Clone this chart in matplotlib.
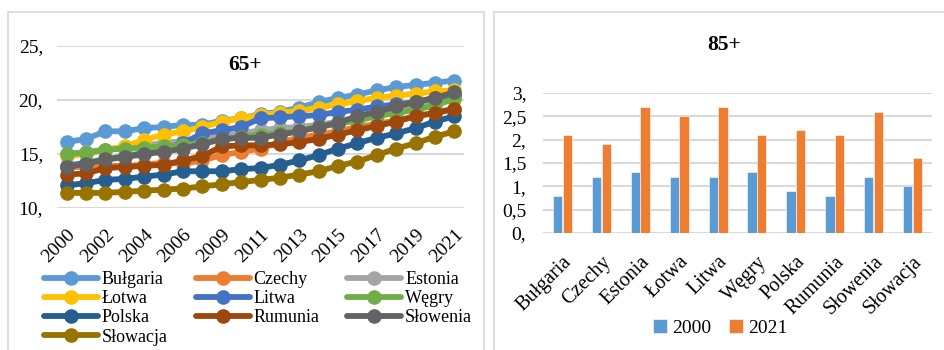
import matplotlib.pyplot as plt
from matplotlib.patches import Rectangle

plt.rcParams['font.family'] = ['Liberation Serif', 'DejaVu Serif']

# 65+ (lewy wykres)
years = [2000, 2001, 2002, 2003, 2004, 2005, 2006, 2008, 2009, 2010, 2011,
         2012, 2013, 2014, 2015, 2016, 2017, 2018, 2019, 2020, 2021]
countries = ['Bułgaria', 'Czechy', 'Estonia', 'Łotwa', 'Litwa',
             'Węgry', 'Polska', 'Rumunia', 'Słowenia', 'Słowacja']
colors = ['#5B9BD5', '#ED7D31', '#A5A5A5', '#FFC000', '#4472C4',
          '#70AD47', '#255E91', '#9E480E', '#636363', '#997300']

bulgaria = [16.1, 16.4, 17.1, 17.1, 17.4, 17.5, 17.7, 17.7, 18.1, 18.3, 18.7,
            18.9, 19.3, 19.8, 20.2, 20.5, 20.9, 21.2, 21.4, 21.6, 21.8]
czechy = [13.8, 13.8, 13.9, 13.9, 14.0, 14.2, 14.1, 14.4, 14.9, 15.2, 15.5,
          16.1, 16.5, 16.8, 17.1, 17.5, 17.8, 18.1, 18.5, 18.8, 19.1]
estonia = [15.0, 15.2, 15.4, 15.6, 15.8, 16.0, 16.2, 16.4, 16.7, 16.9, 17.2,
           17.4, 17.5, 17.7, 18.0, 18.3, 18.7, 19.1, 19.5, 19.9, 20.4]
lotwa = [14.8, 15.0, 15.4, 15.7, 16.3, 16.8, 17.1, 17.5, 18.0, 18.3, 18.6,
         18.8, 19.0, 19.3, 19.6, 19.9, 20.2, 20.4, 20.6, 20.8, 20.9]
litwa = [13.9, 14.2, 14.5, 14.8, 15.1, 15.5, 16.0, 16.9, 17.2, 17.5, 18.3,
         18.4, 18.5, 18.6, 18.9, 19.1, 19.4, 19.6, 19.8, 20.2, 20.5]
wegry = [15.0, 15.1, 15.4, 15.5, 15.6, 15.7, 15.8, 16.0, 16.3, 16.6, 16.8,
         16.9, 17.1, 17.5, 17.8, 18.1, 18.5, 18.8, 19.1, 19.5, 20.1]
polska = [12.1, 12.3, 12.6, 12.7, 12.9, 13.1, 13.4, 13.4, 13.4, 13.6, 13.7,
          14.0, 14.4, 14.9, 15.5, 16.0, 16.5, 16.9, 17.4, 18.0, 18.5]
rumunia = [13.1, 13.2, 13.7, 13.8, 13.9, 14.0, 14.4, 14.8, 15.7, 15.8, 15.8,
           15.9, 16.1, 16.4, 16.8, 17.2, 17.6, 18.0, 18.5, 18.8, 19.2]
slowenia = [13.8, 14.1, 14.5, 14.7, 15.0, 15.2, 15.5, 15.9, 16.4, 16.5, 16.5,
            16.8, 17.1, 17.5, 17.9, 18.5, 18.9, 19.4, 19.8, 20.2, 20.7]
slowacja = [11.4, 11.4, 11.4, 11.5, 11.6, 11.7, 11.8, 12.0, 12.2, 12.4, 12.6,
            12.8, 13.1, 13.4, 13.9, 14.3, 14.9, 15.5, 16.0, 16.6, 17.1]
series_65 = [bulgaria, czechy, estonia, lotwa, litwa,
             wegry, polska, rumunia, slowenia, slowacja]

# 85+ (prawy wykres)
val_2000 = [0.8, 1.2, 1.3, 1.2, 1.2, 1.3, 0.9, 0.8, 1.2, 1.0]
val_2021 = [2.1, 1.9, 2.7, 2.5, 2.7, 2.1, 2.2, 2.1, 2.6, 1.6]

W, H = 944, 350
fig = plt.figure(figsize=(W / 100, H / 100), dpi=100)


def px_axes(x0, y0, x1, y1):
    return fig.add_axes([x0 / W, 1 - y1 / H, (x1 - x0) / W, (y1 - y0) / H])


# ramki wykresów
for x0, x1 in [(8, 484), (494, 950)]:
    fig.patches.append(Rectangle((x0 / W, -0.05), (x1 - x0) / W, 1 - 12 / H + 0.05,
                                 transform=fig.transFigure, fill=False,
                                 edgecolor='#D9D9D9', lw=1.2))

grid_c = '#D9D9D9'

# --- lewy wykres ---
ax1 = px_axes(57, 46, 464, 208)
x = list(range(len(years)))
for name, col, vals in zip(countries, colors, series_65):
    ax1.plot(x, vals, color=col, lw=4.2, marker='o', markersize=9.5,
             label=name, solid_capstyle='round')
ax1.set_xlim(-0.5, len(years) - 0.5)
ax1.set_ylim(10, 25)
ax1.set_yticks([10, 15, 20, 25])
ax1.set_yticklabels(['10,', '15,', '20,', '25,'], fontsize=14)
ax1.set_xticks(x[::2])
ax1.set_xticklabels([str(y) for y in years[::2]], fontsize=14, rotation=45,
                    ha='right', rotation_mode='anchor')
ax1.tick_params(length=0, pad=10)
ax1.tick_params(axis='x', pad=13)
ax1.grid(axis='y', color=grid_c, lw=1.5)
ax1.set_axisbelow(True)
for s in ax1.spines.values():
    s.set_visible(False)
fig.text(245 / W, 1 - 65 / H, '65+', ha='center', va='center',
         fontsize=15.5, fontweight='bold')

handles, labels = ax1.get_legend_handles_labels()
order = [0, 3, 6, 9, 1, 4, 7, 2, 5, 8]
fig.legend([handles[i] for i in order], [labels[i] for i in order],
           loc='upper left', bbox_to_anchor=(44 / W, 1 - 271 / H), ncol=3,
           frameon=False, fontsize=13, handlelength=3.0, handletextpad=0.2,
           labelspacing=0.12, columnspacing=1.55, borderpad=0, borderaxespad=0)

# --- prawy wykres ---
ax2 = px_axes(543, 93, 932, 233)
xb = range(len(countries))
bw = 0.24
ax2.bar([i - 0.125 for i in xb], val_2000, width=bw, color='#5B9BD5',
        label='2000', edgecolor='white', lw=0.4)
ax2.bar([i + 0.125 for i in xb], val_2021, width=bw, color='#ED7D31',
        label='2021', edgecolor='white', lw=0.4)
ax2.set_xlim(-0.5, len(countries) - 0.5)
ax2.set_ylim(0, 3)
ax2.set_yticks([0, 0.5, 1, 1.5, 2, 2.5, 3])
ax2.set_yticklabels(['0,', '0,5', '1,', '1,5', '2,', '2,5', '3,'], fontsize=14)
ax2.set_xticks(list(xb))
ax2.set_xticklabels(countries, fontsize=14.5, rotation=45, ha='right',
                    rotation_mode='anchor')
ax2.tick_params(length=0, pad=12)
ax2.tick_params(axis='x', pad=14)
ax2.grid(axis='y', color=grid_c, lw=1.5)
ax2.set_axisbelow(True)
for s in ax2.spines.values():
    s.set_visible(False)
fig.text(724 / W, 1 - 45 / H, '85+', ha='center', va='center',
         fontsize=15.5, fontweight='bold')
ax2.legend(loc='center', bbox_to_anchor=(720 / W, 1 - 328 / H),
           bbox_transform=fig.transFigure, ncol=2, frameon=False, fontsize=14,
           handlelength=0.75, handleheight=0.75, handletextpad=0.25,
           columnspacing=0.9)

fig.savefig('out.png', dpi=100)
